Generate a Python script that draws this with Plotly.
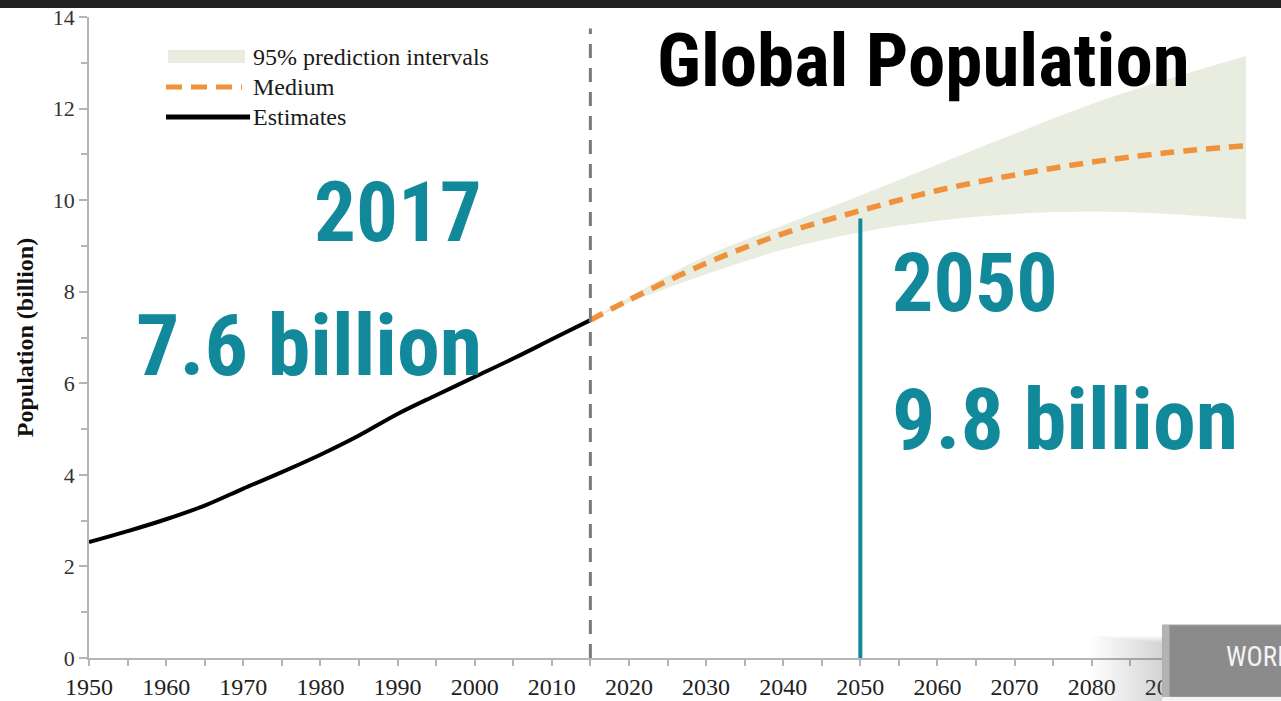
import plotly.graph_objects as go

# ---------------- data ----------------
est_years = [1950, 1955, 1960, 1965, 1970, 1975, 1980, 1985, 1990, 1995, 2000, 2005, 2010, 2015]
est_pop = [2.53, 2.77, 3.03, 3.33, 3.70, 4.06, 4.44, 4.86, 5.33, 5.74, 6.14, 6.54, 6.96, 7.38]

proj_years = [2015, 2020, 2030, 2040, 2050, 2060, 2070, 2080, 2090, 2100]
medium = [7.38, 7.82, 8.62, 9.27, 9.77, 10.21, 10.55, 10.83, 11.04, 11.19]
upper95 = [7.38, 7.88, 8.78, 9.45, 10.10, 10.78, 11.45, 12.10, 12.65, 13.15]
lower95 = [7.38, 7.76, 8.38, 8.92, 9.30, 9.55, 9.70, 9.75, 9.70, 9.58]

x_ticks = list(range(1950, 2101, 10))
y_ticks = list(range(0, 15, 2))

split_year = 2015
mark_year = 2050
mark_value = 9.6
dash_top = 13.75

legend_names = ["95% prediction intervals", "Medium", "Estimates"]
title_text = "Global Population"
left_texts = ["2017", "7.6 billion"]
right_texts = ["2050", "9.8 billion"]
badge_text = "WORLD"

# ---------------- styles ----------------
TEAL = "#12899a"
ORANGE = "#f0913c"
BAND = "#e8eddf"
GRAY = "#7a7a7a"
SERIF = "Liberation Serif, Times New Roman, serif"
NARROW = "Liberation Sans Narrow, Arial Narrow, Roboto Condensed, Liberation Sans, sans-serif"

X0, X1, Y0, Y1 = 89, 1245.5, 658, 17


def px(x):
    return (x - X0) / (X1 - X0)


def py(y):
    return (Y0 - y) / (Y0 - Y1)


fig = go.Figure()

fig.add_trace(go.Scatter(x=proj_years, y=lower95, mode="lines", line=dict(width=0, shape="spline"),
                         showlegend=False, hoverinfo="skip"))
fig.add_trace(go.Scatter(x=proj_years, y=upper95, mode="lines", line=dict(width=0, shape="spline"),
                         fill="tonexty", fillcolor=BAND, name=legend_names[0], showlegend=False))
fig.add_trace(go.Scatter(x=est_years, y=est_pop, mode="lines", name=legend_names[2],
                         line=dict(color="black", width=4, shape="spline"), showlegend=False))
fig.add_trace(go.Scatter(x=proj_years, y=medium, mode="lines", name=legend_names[1],
                         line=dict(color=ORANGE, width=5.5, dash="14px,9px", shape="spline"), showlegend=False))

shapes = []
# vertical dashed split line
shapes.append(dict(type="line", xref="x", yref="y", x0=split_year, x1=split_year, y0=0, y1=dash_top,
                   line=dict(color=GRAY, width=3, dash="14px,10px"), layer="above"))
# teal 2050 marker
shapes.append(dict(type="line", xref="x", yref="y", x0=mark_year, x1=mark_year, y0=0, y1=mark_value,
                   line=dict(color=TEAL, width=4), layer="above"))
# legend symbols
shapes.append(dict(type="rect", xref="paper", yref="paper", x0=px(168), x1=px(245), y0=py(63), y1=py(50),
                   fillcolor=BAND, line=dict(width=0)))
shapes.append(dict(type="line", xref="paper", yref="paper", x0=px(166), x1=px(242), y0=py(87), y1=py(87),
                   line=dict(color=ORANGE, width=5, dash="16px,9px")))
shapes.append(dict(type="line", xref="paper", yref="paper", x0=px(166), x1=px(250), y0=py(117), y1=py(117),
                   line=dict(color="black", width=5)))
# dark strip at the top
shapes.append(dict(type="rect", xref="paper", yref="paper", x0=px(-5), x1=px(1290), y0=py(8), y1=py(-5),
                   fillcolor="#222222", line=dict(width=0), layer="above"))
# soft shadow left of badge
for i in range(14):
    shapes.append(dict(type="rect", xref="paper", yref="paper", x0=px(1092 + i * 5), x1=px(1162),
                       y0=py(703), y1=py(636 + i * 0.5), fillcolor="#8f8f8f", opacity=0.022,
                       line=dict(width=0), layer="above"))
# WORLD badge
shapes.append(dict(type="rect", xref="paper", yref="paper", x0=px(1162), x1=px(1290), y0=py(697), y1=py(625),
                   fillcolor="#8b8b8b", line=dict(color="#a8a8a8", width=1), layer="above"))
shapes.append(dict(type="rect", xref="paper", yref="paper", x0=px(1162), x1=px(1169), y0=py(697), y1=py(625),
                   fillcolor="#b3b3b3", line=dict(width=0), layer="above"))
shapes.append(dict(type="rect", xref="paper", yref="paper", x0=px(1162), x1=px(1290), y0=py(703), y1=py(697),
                   fillcolor="#f4f4f4", line=dict(width=0), layer="above"))

annotations = []
leg_y = [57, 87, 117]
for name, yy in zip(legend_names, leg_y):
    annotations.append(dict(text=name, xref="paper", yref="paper", x=px(251), y=py(yy), xanchor="left",
                            yanchor="middle", showarrow=False, font=dict(family=SERIF, size=24, color="#1a1a1a")))

annotations.append(dict(text="<b>%s</b>" % title_text, xref="paper", yref="paper", x=px(655), y=py(60),
                        xanchor="left", yanchor="middle", showarrow=False,
                        font=dict(family=NARROW, size=75, color="black")))

annotations.append(dict(text="<b>%s</b>" % left_texts[0], xref="paper", yref="paper", x=px(484), y=py(212),
                        xanchor="right", yanchor="middle", showarrow=False,
                        font=dict(family=NARROW, size=83, color=TEAL)))
annotations.append(dict(text="<b>%s</b>" % left_texts[1], xref="paper", yref="paper", x=px(484), y=py(345),
                        xanchor="right", yanchor="middle", showarrow=False,
                        font=dict(family=NARROW, size=86, color=TEAL)))
annotations.append(dict(text="<b>%s</b>" % right_texts[0], xref="paper", yref="paper", x=px(890), y=py(283),
                        xanchor="left", yanchor="middle", showarrow=False,
                        font=dict(family=NARROW, size=82, color=TEAL)))
annotations.append(dict(text="<b>%s</b>" % right_texts[1], xref="paper", yref="paper", x=px(890), y=py(419),
                        xanchor="left", yanchor="middle", showarrow=False,
                        font=dict(family=NARROW, size=86, color=TEAL)))
annotations.append(dict(text=badge_text, xref="paper", yref="paper", x=px(1224), y=py(657),
                        xanchor="left", yanchor="middle", showarrow=False,
                        font=dict(family=NARROW, size=27, color="#f4f4f4")))

fig.update_layout(
    width=1281, height=701,
    margin=dict(l=89, r=35, t=17, b=43),
    paper_bgcolor="white", plot_bgcolor="white",
    showlegend=False,
    shapes=shapes, annotations=annotations,
    xaxis=dict(range=[1950, 2100], tickvals=x_ticks, ticktext=[str(v) for v in x_ticks],
               automargin=False,
               showgrid=False, zeroline=False, showline=True, linecolor="#b5b5b5", linewidth=1.5,
               ticks="outside", ticklen=6, tickcolor="#b5b5b5", tickwidth=1.5,
               minor=dict(dtick=5, ticks="outside", ticklen=6, tickcolor="#b5b5b5", tickwidth=1.5),
               tickfont=dict(family=SERIF, size=24, color="#222")),
    yaxis=dict(range=[0, 14], tickvals=y_ticks, automargin=False,
               showgrid=False, zeroline=False, showline=True,
               linecolor="#b5b5b5", linewidth=1.5, ticks="outside", ticklen=8, tickcolor="#b5b5b5",
               tickwidth=1.5,
               minor=dict(dtick=1, ticks="outside", ticklen=6, tickcolor="#b5b5b5", tickwidth=1.5),
               tickfont=dict(family=SERIF, size=22, color="#333"),
               title=dict(text="<b>Population (billion)</b>", font=dict(family=SERIF, size=24, color="#111"),
                          standoff=12)),
)

fig.write_html("out.html", config={"displayModeBar": False},
               post_script="document.body.style.margin='0';document.body.style.overflow='hidden';")
